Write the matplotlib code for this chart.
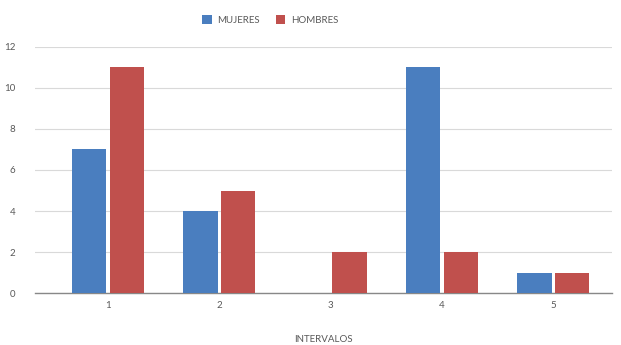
import matplotlib
matplotlib.use("Agg")
import matplotlib.pyplot as plt
import numpy as np

plt.rcParams['font.family'] = ['Lato', 'DejaVu Sans']

categories = ["1", "2", "3", "4", "5"]
mujeres = [7, 4, 0, 11, 1]
hombres = [11, 5, 2, 2, 1]
y_ticks = [0, 2, 4, 6, 8, 10, 12]

blue = "#4a7ebf"
red = "#c0504d"
text_col = "#595959"

fig = plt.figure(figsize=(6.21, 3.45), dpi=100)
ax = fig.add_axes([0.056, 0.1507, 0.930, 0.7131])

x = np.arange(1, len(categories) + 1)
w = 0.31
gap = 0.015
ax.bar(x - w / 2 - gap, mujeres, width=w, color=blue, label="MUJERES", zorder=3)
ax.bar(x + w / 2 + gap, hombres, width=w, color=red, label="HOMBRES", zorder=3)

ax.set_xlim(0.344, 5.53)
ax.set_ylim(0, 12)
ax.set_yticks(y_ticks)
ax.set_xticks(x)
ax.set_xticklabels(categories)
ax.yaxis.grid(True, color="#d9d9d9", linewidth=0.8, zorder=0)
ax.set_axisbelow(True)
for s in ["top", "right", "left"]:
    ax.spines[s].set_visible(False)
ax.spines["bottom"].set_color("#888888")
ax.spines["bottom"].set_linewidth(1.0)
ax.tick_params(axis="both", length=0, labelsize=7, colors=text_col, pad=6)
ax.tick_params(axis="y", pad=14)
ax.set_xlabel("INTERVALOS", fontsize=7, color=text_col, labelpad=18)

leg = fig.legend(loc="center", bbox_to_anchor=(0.435, 0.942), ncol=2, frameon=False,
                 fontsize=7, handlelength=1.0, handleheight=1.0, columnspacing=1.6,
                 handletextpad=0.6)
for t in leg.get_texts():
    t.set_color(text_col)

fig.savefig("out.png", dpi=100)
